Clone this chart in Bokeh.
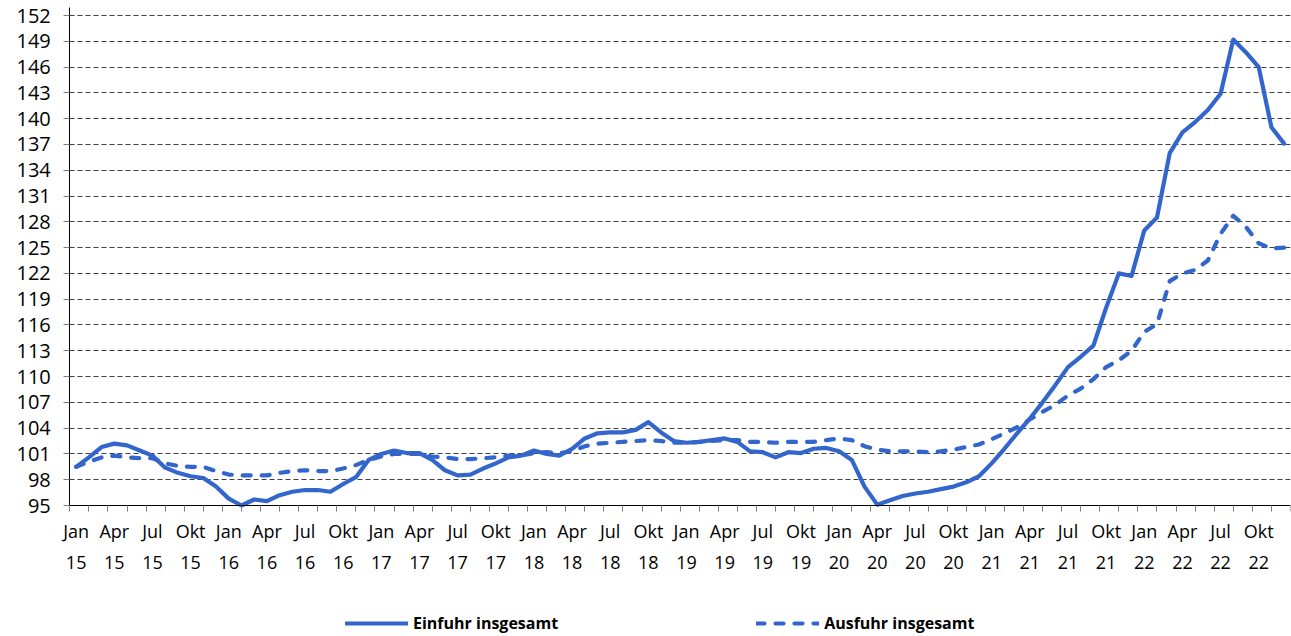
from bokeh.plotting import figure
from bokeh.models import FixedTicker, Legend, LegendItem, Range1d
from bokeh.embed import file_html
from bokeh.resources import INLINE

# ---- data -------------------------------------------------------------
years = ["15", "16", "17", "18", "19", "20", "21", "22"]
month_names = ["Jan", "Feb", "Mär", "Apr", "Mai", "Jun",
               "Jul", "Aug", "Sep", "Okt", "Nov", "Dez"]
months = [f"{m} {y}" for y in years for m in month_names]

einfuhr = [
    99.5, 100.6, 101.8, 102.2, 102.0, 101.4, 100.8, 99.4, 98.8, 98.4, 98.2, 97.2,
    95.8, 95.0, 95.7, 95.5, 96.2, 96.6, 96.8, 96.8, 96.6, 97.5, 98.3, 100.3,
    101.0, 101.4, 101.1, 101.1, 100.3, 99.1, 98.5, 98.6, 99.3, 99.9, 100.6, 100.8,
    101.4, 101.0, 100.8, 101.6, 102.8, 103.4, 103.5, 103.5, 103.8, 104.7, 103.5, 102.5,
    102.3, 102.4, 102.6, 102.8, 102.4, 101.3, 101.2, 100.6, 101.2, 101.1, 101.6, 101.7,
    101.3, 100.3, 97.2, 95.1, 95.6, 96.1, 96.4, 96.6, 96.9, 97.2, 97.7, 98.4,
    99.9, 101.6, 103.4, 105.1, 107.0, 109.0, 111.1, 112.3, 113.6, 118.0, 122.0, 121.7,
    127.0, 128.5, 136.0, 138.4, 139.6, 141.0, 142.9, 149.2, 147.7, 146.0, 139.0, 137.1,
]
ausfuhr = [
    99.5, 100.1, 100.6, 100.8, 100.6, 100.5, 100.5, 99.9, 99.6, 99.5, 99.5, 99.0,
    98.6, 98.5, 98.5, 98.5, 98.8, 99.0, 99.1, 99.0, 99.0, 99.3, 99.7, 100.3,
    100.7, 101.0, 101.0, 101.0, 100.7, 100.6, 100.4, 100.4, 100.5, 100.6, 100.8, 100.8,
    101.1, 101.2, 101.1, 101.3, 101.9, 102.2, 102.3, 102.4, 102.5, 102.6, 102.5, 102.3,
    102.3, 102.4, 102.5, 102.6, 102.6, 102.4, 102.4, 102.3, 102.4, 102.4, 102.4, 102.6,
    102.8, 102.6, 101.9, 101.5, 101.3, 101.3, 101.3, 101.2, 101.3, 101.5, 101.8, 102.1,
    102.7, 103.4, 104.1, 105.0, 105.9, 106.7, 107.8, 108.6, 109.7, 111.1, 111.9, 113.0,
    115.2, 116.1, 121.1, 122.0, 122.4, 123.5, 126.6, 128.7, 127.4, 125.5, 124.9, 125.0,
]
y_min, y_max, y_step = 95, 152, 3
y_ticks = list(range(y_min, y_max + 1, y_step))
label_every = 3

# ---- layout helpers -----------------------------------------------------
W, H = 1291, 636
AXIS_X, RIGHT_X = 69.3, 1290.0   # pixel columns of the y axis and of the right end
TOP_Y, AXIS_Y = 15.0, 505.0      # pixel rows of the top gridline and of the x axis
n = len(months)
x_lo_c, x_hi_c = -0.5, n - 0.5
px_x = (RIGHT_X - AXIS_X) / (x_hi_c - x_lo_c)
px_y = (AXIS_Y - TOP_Y) / (y_max - y_min)
x_start = x_lo_c - AXIS_X / px_x
x_end = x_hi_c + (W - 1 - RIGHT_X) / px_x
y_start = y_min - (H - AXIS_Y) / px_y
y_end = y_max + TOP_Y / px_y
axis_top = y_max + 8 / px_y

x = list(range(n))
tick_pos = x[::label_every]
tick_labels = {i: months[i].replace(" ", "\n") for i in tick_pos}
minor_pos = [x_lo_c + 1.5 * k for k in range(int(n / 1.5) + 1)]

FONT = "Open Sans"
BLUE = "#3366CC"

p = figure(width=W, height=H, output_backend="svg", toolbar_location=None,
           x_range=Range1d(x_start, x_end), y_range=Range1d(y_start, y_end),
           min_border_left=0, min_border_right=1, min_border_top=0,
           min_border_bottom=0)
p.outline_line_color = None
p.background_fill_color = "white"
p.border_fill_color = "white"

# y axis pinned at the first category edge
p.yaxis.fixed_location = x_lo_c
p.yaxis.ticker = FixedTicker(ticks=y_ticks)
p.yaxis.bounds = (y_min, axis_top)
p.yaxis.major_label_text_font = FONT
p.yaxis.major_label_text_font_size = "20px"
p.yaxis.major_label_text_color = "black"
p.yaxis.major_tick_out = 6
p.yaxis.major_tick_in = 0
p.yaxis.major_tick_line_color = "#808080"
p.yaxis.minor_tick_line_color = None
p.yaxis.axis_line_color = "black"
p.yaxis.major_label_standoff = 13

grid = p.ygrid[0]
grid.ticker = FixedTicker(ticks=y_ticks)
grid.grid_line_color = "#404040"
grid.grid_line_dash = "5 3"
grid.grid_line_width = 1
grid.bounds = (y_min, y_max)
if "cross_bounds" in grid.properties():
    grid.cross_bounds = (x_lo_c, x_hi_c)
else:
    grid.visible = False
    p.segment(x0=[x_lo_c] * len(y_ticks), x1=[x_hi_c] * len(y_ticks),
              y0=y_ticks, y1=y_ticks, line_color="#404040", line_dash="5 3",
              line_width=1)
p.xgrid.visible = False

r1 = p.line(x, einfuhr, line_color=BLUE, line_width=4.2,
            line_join="round", line_cap="round")
r2 = p.line(x, ausfuhr, line_color=BLUE, line_width=4.2, line_dash="8 11",
            line_join="round", line_cap="round")

# x axis pinned at y = 95
p.xaxis.fixed_location = y_min
p.xaxis.bounds = (x_lo_c, x_hi_c)
p.xaxis.ticker = FixedTicker(ticks=tick_pos, minor_ticks=minor_pos)
p.xaxis.major_label_overrides = tick_labels
p.xaxis.major_label_text_font = FONT
p.xaxis.major_label_text_font_size = "18px"
p.xaxis.major_label_text_color = "black"
p.xaxis.major_label_text_line_height = 1.3
p.xaxis.major_tick_line_color = None
p.xaxis.major_tick_out = 0
p.xaxis.major_tick_in = 0
p.xaxis.minor_tick_out = 6
p.xaxis.minor_tick_in = 0
p.xaxis.minor_tick_line_color = "#808080"
p.xaxis.axis_line_color = "black"
p.xaxis.major_label_standoff = 7

legend = Legend(items=[LegendItem(label="Einfuhr insgesamt", renderers=[r1]),
                       LegendItem(label="Ausfuhr insgesamt", renderers=[r2])],
                orientation="horizontal", location=(345, 2),
                glyph_width=63, glyph_height=20, label_standoff=5, spacing=198,
                padding=0, margin=0, border_line_color=None,
                background_fill_alpha=0,
                label_text_font=FONT, label_text_font_style="bold",
                label_text_font_size="16px", label_text_color="black")
p.add_layout(legend)

open("out.html", "w").write(file_html(p, INLINE))
